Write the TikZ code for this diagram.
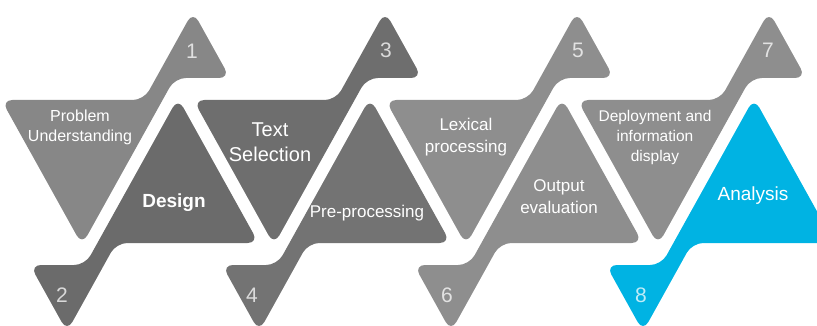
\documentclass[tikz,border=0pt]{standalone}
\usepackage{fontspec}
\setmainfont{Liberation Sans}
\usetikzlibrary{calc}

\definecolor{greyA}{HTML}{878787}
\definecolor{greyB}{HTML}{6B6B6B}
\definecolor{greyC}{HTML}{6E6E6E}
\definecolor{greyD}{HTML}{737373}
\definecolor{greyE}{HTML}{8E8E8E}
\definecolor{skyblue}{HTML}{00B3E3}

\tikzset{
  piece/.style={rounded corners=11pt},
  label/.style={text=white, align=center, font=\fontsize{16}{20}\selectfont},
  num/.style={text=white, text opacity=.75, font=\fontsize{21}{21}\selectfont},
}

\begin{document}
\begin{tikzpicture}[x=1pt, y=-1pt]
\useasboundingbox (0,0) rectangle (817,326);
\clip (0,0) rectangle (817,326);

% step 1 and 2
\coordinate (O) at (0,0);
\fill[piece, greyA] (O)++(1.4,100)--++(142.4,0)--++(12.2,-22)--++(37,-66.6)--++(37,66.6)--++(-55.2,0)--++(-12.2,22)--++(-80.6,145)--cycle;
\fill[piece, greyB] (O)++(258.6,243)--++(-142.4,0)--++(-12.2,22)--++(-37,66.6)--++(-37,-66.6)--++(55.2,0)--++(12.2,-22)--++(80.6,-145)--cycle;
\node[label] (probl) at (80,127) {Problem\\Understanding};
\node[num] (n1) at (192,51) {1};
\node[label, font=\fontsize{19}{22}\selectfont\bfseries] (design) at (174,203) {Design};
\node[num] (n2) at (62,295) {2};

% step 3 and 4
\coordinate (O) at (192,0);
\fill[piece, greyC] (O)++(1.4,100)--++(142.4,0)--++(12.2,-22)--++(37,-66.6)--++(37,66.6)--++(-55.2,0)--++(-12.2,22)--++(-80.6,145)--cycle;
\fill[piece, greyD] (O)++(258.6,243)--++(-142.4,0)--++(-12.2,22)--++(-37,66.6)--++(-37,-66.6)--++(55.2,0)--++(12.2,-22)--++(80.6,-145)--cycle;
\node[label, font=\fontsize{20}{25}\selectfont] (textsel) at (270,142) {Text\\Selection};
\node[num] (n3) at (386,50) {3};
\node[label, font=\fontsize{17}{20}\selectfont] (preproc) at (367,213) {Pre-processing};
\node[num] (n4) at (252,295) {4};

% step 5 and 6
\coordinate (O) at (384,0);
\fill[piece, greyE] (O)++(1.4,100)--++(142.4,0)--++(12.2,-22)--++(37,-66.6)--++(37,66.6)--++(-55.2,0)--++(-12.2,22)--++(-80.6,145)--cycle;
\fill[piece, greyE] (O)++(258.6,243)--++(-142.4,0)--++(-12.2,22)--++(-37,66.6)--++(-37,-66.6)--++(55.2,0)--++(12.2,-22)--++(80.6,-145)--cycle;
\node[label, font=\fontsize{17}{22}\selectfont] (lexical) at (466,137) {Lexical\\processing};
\node[num] (n5) at (578,50) {5};
\node[label, font=\fontsize{17}{22}\selectfont] (output) at (559,197) {Output\\evaluation};
\node[num] (n6) at (447,295) {6};

% step 7 and 8
\coordinate (O) at (576,0);
\fill[piece, greyE] (O)++(1.4,100)--++(142.4,0)--++(12.2,-22)--++(37,-66.6)--++(37,66.6)--++(-55.2,0)--++(-12.2,22)--++(-80.6,145)--cycle;
\fill[piece, skyblue] (O)++(258.6,243)--++(-142.4,0)--++(-12.2,22)--++(-37,66.6)--++(-37,-66.6)--++(55.2,0)--++(12.2,-22)--++(80.6,-145)--cycle;
\node[label, font=\fontsize{15.5}{20}\selectfont] (deploy) at (655,137) {Deployment and\\information\\display};
\node[num] (n7) at (768,50) {7};
\node[label, font=\fontsize{19}{22}\selectfont] (analysis) at (753,196) {Analysis};
\node[num] (n8) at (641,295) {8};
\end{tikzpicture}
\end{document}
